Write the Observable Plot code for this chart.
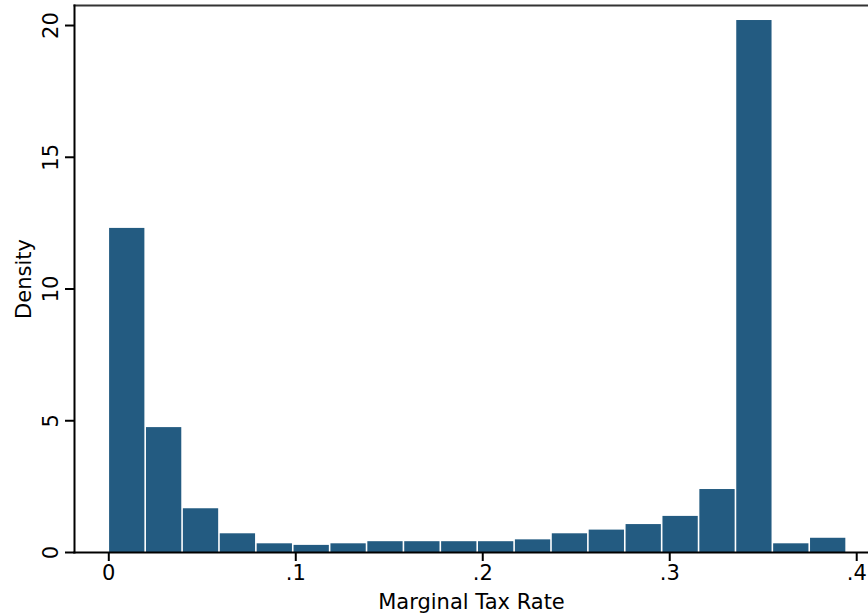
<!DOCTYPE html>
<html>
<head>
<meta charset="utf-8">
<script src="https://cdn.jsdelivr.net/npm/d3@7"></script>
<script src="https://cdn.jsdelivr.net/npm/@observablehq/plot@0.6"></script>
<style>
  html, body { margin: 0; padding: 0; background: #fff; }
  #chart { width: 868px; height: 615px; }
</style>
</head>
<body>
<div id="chart"></div>
<script>
// Histogram of marginal tax rate (density scale)
const binStart = 0;
const binWidth = 0.01973;
const density = [12.30, 4.74, 1.66, 0.71, 0.33, 0.27, 0.33, 0.41, 0.41, 0.41,
                 0.41, 0.48, 0.71, 0.85, 1.06, 1.37, 2.39, 20.19, 0.33, 0.54];
const xTicks = [0, 0.1, 0.2, 0.3, 0.4];
const xTickLabels = ["0", ".1", ".2", ".3", ".4"];
const yTicks = [0, 5, 10, 15, 20];
const xTitle = "Marginal Tax Rate";
const yTitle = "Density";

const bins = density.map((d, i) => ({
  x1: binStart + i * binWidth,
  x2: binStart + (i + 1) * binWidth,
  density: d
}));

const FONT = "DejaVu Sans, sans-serif";

const chart = Plot.plot({
  width: 868,
  height: 615,
  marginLeft: 74,
  marginRight: 0,
  marginTop: 5,
  marginBottom: 63,
  style: { fontFamily: FONT, background: "#fff", color: "#000" },
  x: { domain: [-0.01834, 0.4063] },
  y: { domain: [0, 20.76] },
  marks: [
    Plot.rectY(bins, {
      x1: "x1", x2: "x2", y: "density",
      fill: "#235b81", insetLeft: 0.8, insetRight: 0.8
    }),
    Plot.frame({ anchor: "top", stroke: "#333", strokeWidth: 2 }),
    Plot.frame({ anchor: "left", stroke: "#000", strokeWidth: 2 }),
    Plot.frame({ anchor: "bottom", stroke: "#000", strokeWidth: 2 }),
    Plot.axisX({
      ticks: xTicks,
      tickFormat: (d) => xTickLabels[xTicks.indexOf(d)],
      tickSize: 9,
      tickPadding: 4,
      fontSize: 21,
      stroke: "#000",
      strokeWidth: 2,
      label: xTitle,
      labelAnchor: "center",
      labelOffset: 56,
      labelArrow: "none"
    }),
    Plot.axisY({
      ticks: yTicks,
      tickSize: 9,
      tickPadding: 8,
      tickRotate: -90,
      fontSize: 21,
      stroke: "#000",
      strokeWidth: 2,
      label: yTitle,
      labelAnchor: "center",
      labelOffset: 58,
      labelArrow: "none"
    })
  ]
});

chart.querySelectorAll("text").forEach(t => t.setAttribute("fill", "#000"));
document.getElementById("chart").appendChild(chart);
</script>
</body>
</html>
